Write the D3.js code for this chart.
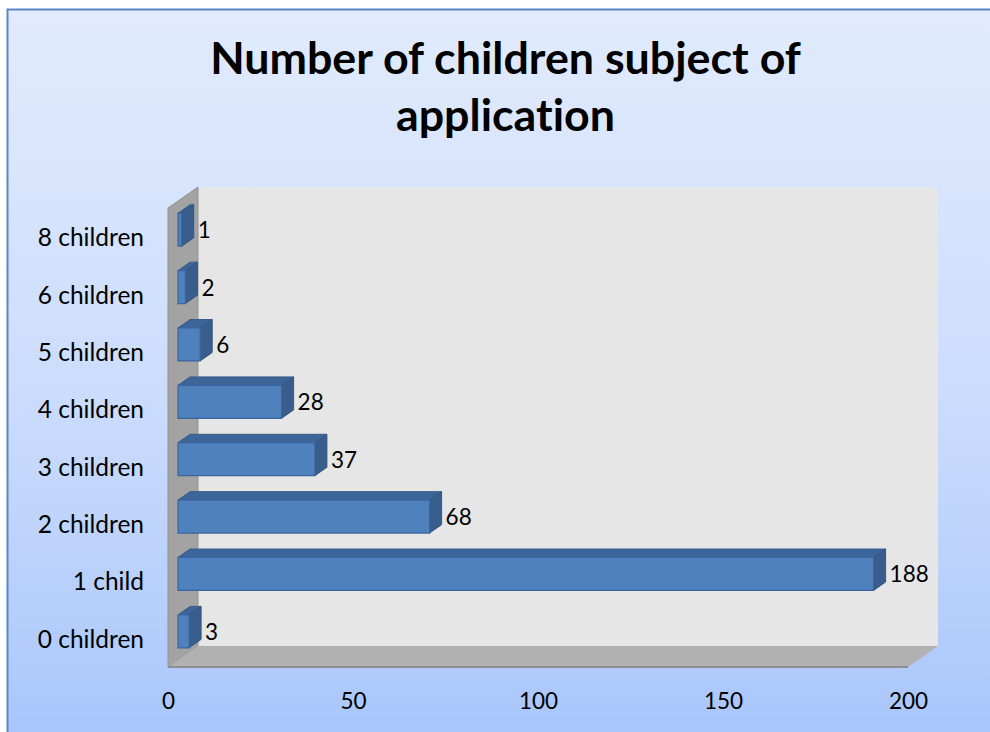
<!DOCTYPE html>
<html>
<head>
<meta charset="utf-8">
<script src="https://cdn.jsdelivr.net/npm/d3@7"></script>
<style>
  html, body { margin: 0; padding: 0; background: #ffffff; }
  svg { display: block; }
  text { font-family: Lato, "Noto Sans", sans-serif; fill: #000; font-variant-ligatures: none; }
</style>
</head>
<body>
<svg id="chart" width="990" height="732"></svg>
<script>
// Categories (bottom to top) and counts
const categories = ["0 children", "1 child", "2 children", "3 children", "4 children", "5 children", "6 children", "8 children"];
const counts = [3, 188, 68, 37, 28, 6, 2, 1];
const xTicks = [0, 50, 100, 150, 200];
const titleLines = ["Number of children subject of", "application"];

const data = categories.map((c, i) => ({ category: c, value: counts[i] }));

const W = 990, H = 732;
const svg = d3.select("#chart");
const defs = svg.append("defs");

// Chart area background with vertical blue gradient
const bg = defs.append("linearGradient").attr("id", "bgGrad")
  .attr("x1", 0).attr("y1", 0).attr("x2", 0).attr("y2", 1);
bg.append("stop").attr("offset", "0%").attr("stop-color", "#e2ebfd");
bg.append("stop").attr("offset", "55%").attr("stop-color", "#c9dbfc");
bg.append("stop").attr("offset", "100%").attr("stop-color", "#a6c4fb");

svg.append("rect")
  .attr("x", 7.5).attr("y", 9.5)
  .attr("width", W + 20).attr("height", H + 20)
  .attr("fill", "url(#bgGrad)")
  .attr("stroke", "#5a86c4").attr("stroke-width", 2);

// Oblique projection of the 3D plot box
const DX = 30, DY = -21;              // full depth offset of the walls
const x = d3.scaleLinear().domain([0, 200]).range([168, 908]);
const y = d3.scaleBand().domain(categories).range([667, 208]).paddingInner(0).paddingOuter(0);
const proj = (px, py, z) => [px + DX * z, py + DY * z];
const poly = pts => "M" + pts.map(p => p.join(",")).join("L") + "Z";

const x0 = x.range()[0], x1 = x.range()[1];
const yTop = y.range()[1], yBot = y.range()[0];

// Back wall
svg.append("path")
  .attr("d", poly([proj(x0, yTop, 1), proj(x1, yTop, 1), proj(x1, yBot, 1), proj(x0, yBot, 1)]))
  .attr("fill", "#e6e6e6");

// Side wall
svg.append("path")
  .attr("d", poly([proj(x0, yTop, 0), proj(x0, yTop, 1), proj(x0, yBot, 1), proj(x0, yBot, 0)]))
  .attr("fill", "#a3a3a3").attr("stroke", "#939393").attr("stroke-width", 1);

// Floor
svg.append("path")
  .attr("d", poly([proj(x0, yBot, 0), proj(x0, yBot, 1), proj(x1, yBot, 1), proj(x1, yBot, 0)]))
  .attr("fill", "#b1b1b1");
svg.append("line")
  .attr("x1", x0).attr("x2", x1).attr("y1", yBot).attr("y2", yBot)
  .attr("stroke", "#8e8e8e").attr("stroke-width", 2);

// Bars: boxes sitting in the middle of the depth
const zA = 1 / 3, zB = zA + 0.4;
const barFrac = 0.575;
const bars = svg.append("g").selectAll("g").data(data).join("g");

function barGeom(d) {
  const cy = y(d.category) + y.bandwidth() / 2;
  const h = y.bandwidth() * barFrac;
  const t = cy - h / 2, b = cy + h / 2;
  const l = x(0), r = x(d.value);
  return { t, b, l, r };
}

// top face
bars.append("path")
  .attr("d", d => { const g = barGeom(d);
    return poly([proj(g.l, g.t, zA), proj(g.r, g.t, zA), proj(g.r, g.t, zB), proj(g.l, g.t, zB)]); })
  .attr("fill", "#3d6599").attr("stroke", "#375c8a").attr("stroke-width", 1);
// end face
bars.append("path")
  .attr("d", d => { const g = barGeom(d);
    return poly([proj(g.r, g.t, zA), proj(g.r, g.t, zB), proj(g.r, g.b, zB), proj(g.r, g.b, zA)]); })
  .attr("fill", "#395d8c").attr("stroke", "#34567f").attr("stroke-width", 1);
// front face
bars.append("path")
  .attr("d", d => { const g = barGeom(d);
    return poly([proj(g.l, g.t, zA), proj(g.r, g.t, zA), proj(g.r, g.b, zA), proj(g.l, g.b, zA)]); })
  .attr("fill", "#4f81bd").attr("stroke", "#3b64a0").attr("stroke-width", 1.2);

// Value labels
bars.append("text")
  .attr("x", d => { const g = barGeom(d); return proj(g.r, g.t, zB)[0] + 4; })
  .attr("y", d => { const g = barGeom(d); return proj(g.r, (g.t + g.b) / 2, zA)[1]; })
  .attr("dominant-baseline", "central")
  .attr("font-size", 22.5)
  .text(d => d.value);

// Value axis (front edge of floor)
const xAxis = svg.append("g")
  .attr("transform", `translate(0, ${yBot + 22})`)
  .call(d3.axisBottom(x).tickValues(xTicks).tickSize(0).tickPadding(0));
xAxis.select(".domain").remove();
xAxis.selectAll("text")
  .attr("font-family", "Lato, 'Noto Sans', sans-serif")
  .attr("font-size", 22.5).attr("fill", "#000")
  .attr("dy", null).attr("y", 11).attr("dominant-baseline", "central");

// Category axis
const yAxis = svg.append("g")
  .attr("transform", `translate(${x0 - 24}, 0)`)
  .call(d3.axisLeft(y).tickSize(0).tickPadding(0));
yAxis.select(".domain").remove();
yAxis.selectAll("text")
  .attr("font-family", "Lato, 'Noto Sans', sans-serif")
  .attr("font-size", 24.5).attr("fill", "#000")
  .attr("dy", null).attr("dominant-baseline", "central");

// Title, two centred lines, sized to the plot width
const title = svg.append("g").attr("font-weight", "bold");
const t1 = title.append("text")
  .attr("x", 505.5).attr("y", 74).attr("text-anchor", "middle")
  .attr("font-size", 40).text(titleLines[0]);
const fitted = 40 * 591 / t1.node().getComputedTextLength();
t1.attr("font-size", fitted);
title.append("text")
  .attr("x", 505.5).attr("y", 131).attr("text-anchor", "middle")
  .attr("font-size", fitted).text(titleLines[1]);
</script>
</body>
</html>
